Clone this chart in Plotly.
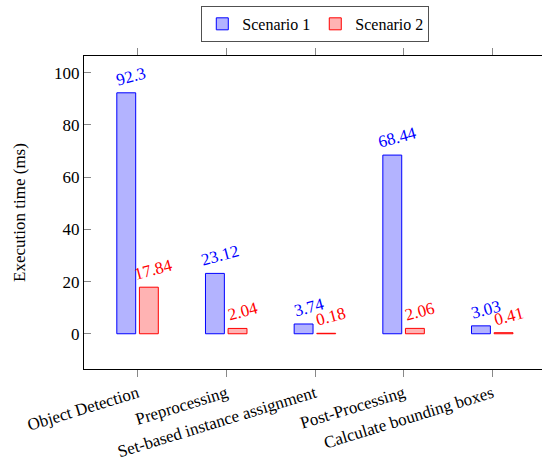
import plotly.graph_objects as go

# Execution time per pipeline stage, two scenarios
stages = ["Object Detection", "Preprocessing", "Set-based instance assignment",
          "Post-Processing", "Calculate bounding boxes"]
scenario1 = [92.3, 23.12, 3.74, 68.44, 3.03]
scenario2 = [17.84, 2.04, 0.18, 2.06, 0.41]
y_ticks = [0, 20, 40, 60, 80, 100]

FONT = "Liberation Serif, Times New Roman, serif"
SIZE = 17
BLUE, BLUE_FILL = "rgb(0,0,255)", "rgb(179,179,255)"
RED, RED_FILL = "rgb(255,0,0)", "rgb(255,179,179)"

idx = list(range(len(stages)))
bar_w = 0.213
off1, off2 = -0.235, 0.02

fig = go.Figure()
fig.add_trace(go.Bar(
    x=idx, y=scenario1, name="Scenario 1", width=bar_w, offset=off1,
    marker=dict(color=BLUE_FILL, line=dict(color=BLUE, width=1)),
))
fig.add_trace(go.Bar(
    x=idx, y=scenario2, name="Scenario 2", width=bar_w, offset=off2,
    marker=dict(color=RED_FILL, line=dict(color=RED, width=1)),
))

# value labels above each bar, slightly rotated
annotations = []
for vals, off, col in ((scenario1, off1, BLUE), (scenario2, off2, RED)):
    for i, v in enumerate(vals):
        annotations.append(dict(
            x=i + off + bar_w / 2, y=v, xref="x", yref="y",
            text=f"{v:g}", showarrow=False, textangle=-15,
            xanchor="center", yanchor="bottom", xshift=5, yshift=1,
            font=dict(family=FONT, size=SIZE, color=col),
        ))

fig.update_layout(
    width=543, height=462,
    margin=dict(l=84, r=1, t=56, b=93),
    paper_bgcolor="white", plot_bgcolor="white",
    font=dict(family=FONT, size=SIZE, color="black"),
    barmode="overlay",
    showlegend=True,
    legend=dict(
        orientation="h", x=0.505, xanchor="center", y=1.16, yanchor="top",
        bordercolor="#505050", borderwidth=1, bgcolor="white",
        font=dict(family=FONT, size=16), itemwidth=30,
        tracegroupgap=0,
    ),
    annotations=annotations,
)

fig.update_xaxes(
    range=[-0.605, 4.56],
    tickmode="array", tickvals=idx, ticktext=stages, tickangle=-17,
    ticks="outside", ticklen=7, tickcolor="#888888",
    showline=True, linecolor="black", linewidth=1, mirror="ticks",
    showgrid=False, zeroline=False,
    tickfont=dict(family=FONT, size=SIZE),
)
fig.update_yaxes(
    range=[-13.5, 106.4],
    tickmode="array", tickvals=y_ticks,
    ticks="inside", ticklen=7, tickcolor="#888888",
    showline=True, linecolor="black", linewidth=1, mirror=False,
    showgrid=False, zeroline=False,
    tickfont=dict(family=FONT, size=SIZE),
    title=dict(text="Execution time (ms)", font=dict(family=FONT, size=SIZE), standoff=24),
)

fig.write_html("out.html")
